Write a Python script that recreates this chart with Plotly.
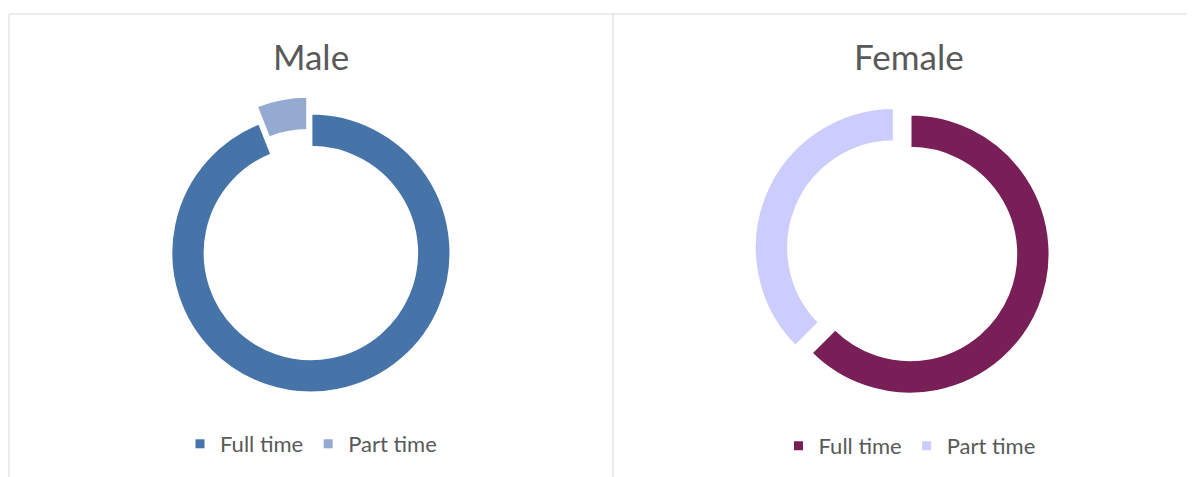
import plotly.graph_objects as go

# page offset of the plot div (default body margin) is 8 px
OFF = 8
W, H = 1195 - OFF, 477 - OFF

categories = ["Full time", "Part time"]
male_values = [94, 6]
female_values = [62.5, 37.5]
male_colors = ["#4674A8", "#95AAD1"]
female_colors = ["#771F56", "#CCCCFF"]
male_pull = [0, 0.121]
female_pull = [0, 0.121]

FONT = "Lato"
TXT = "#595959"


def px_x(p):
    return (p - OFF) / W


def px_y(p):
    return 1 - (p - OFF) / H


def domain(cx, cy, half_w, half_h):
    return dict(x=[px_x(cx - half_w), px_x(cx + half_w)],
                y=[px_y(cy + half_h), px_y(cy - half_h)])


fig = go.Figure()

fig.add_trace(go.Pie(
    labels=categories, values=male_values, hole=0.755, sort=False,
    direction="clockwise", rotation=0, pull=male_pull,
    marker=dict(colors=male_colors, line=dict(color="white", width=3)),
    textinfo="none", hoverinfo="label+value",
    domain=domain(310.9, 253, 170, 157), showlegend=False,
    name="Male",
))
fig.add_trace(go.Pie(
    labels=categories, values=female_values, hole=0.755, sort=False,
    direction="clockwise", rotation=0, pull=female_pull,
    marker=dict(colors=female_colors, line=dict(color="white", width=3)),
    textinfo="none", hoverinfo="label+value",
    domain=domain(910, 254, 170, 157), showlegend=False,
    name="Female",
))

# legend entries (one legend per panel)
for lg, colors in (("legend", male_colors), ("legend2", female_colors)):
    for cat, col in zip(categories, colors):
        fig.add_trace(go.Scatter(
            x=[None], y=[None], mode="markers", name=cat,
            marker=dict(symbol="square", size=9, color=col),
            legend=lg, hoverinfo="skip",
        ))

legend_common = dict(orientation="h", xanchor="center", yanchor="middle",
                     font=dict(family=FONT, size=22, color=TXT),
                     bgcolor="rgba(0,0,0,0)", itemclick=False, itemdoubleclick=False)
fig.update_layout(
    legend=dict(x=px_x(311), y=px_y(444), **legend_common),
    legend2=dict(x=px_x(909.5), y=px_y(446), **legend_common),
)

# panel borders
border = dict(color="#D9D9D9", width=1)
shapes = [
    dict(type="line", xref="paper", yref="paper", x0=px_x(9), x1=1, y0=px_y(14), y1=px_y(14), line=border),
    dict(type="line", xref="paper", yref="paper", x0=px_x(9), x1=px_x(9), y0=0, y1=px_y(14), line=border),
    dict(type="line", xref="paper", yref="paper", x0=px_x(613), x1=px_x(613), y0=0, y1=px_y(14), line=border),
]

annotations = [
    dict(text="Male", x=px_x(311), y=px_y(56), xref="paper", yref="paper",
         xanchor="center", yanchor="middle", showarrow=False,
         font=dict(family=FONT, size=35, color=TXT)),
    dict(text="Female", x=px_x(909), y=px_y(56), xref="paper", yref="paper",
         xanchor="center", yanchor="middle", showarrow=False,
         font=dict(family=FONT, size=35, color=TXT)),
]

fig.update_layout(
    width=W, height=H,
    margin=dict(l=0, r=0, t=0, b=0),
    paper_bgcolor="white", plot_bgcolor="white",
    xaxis=dict(visible=False), yaxis=dict(visible=False),
    shapes=shapes, annotations=annotations,
    font=dict(family=FONT, color=TXT),
)

fig.write_html("out.html")
